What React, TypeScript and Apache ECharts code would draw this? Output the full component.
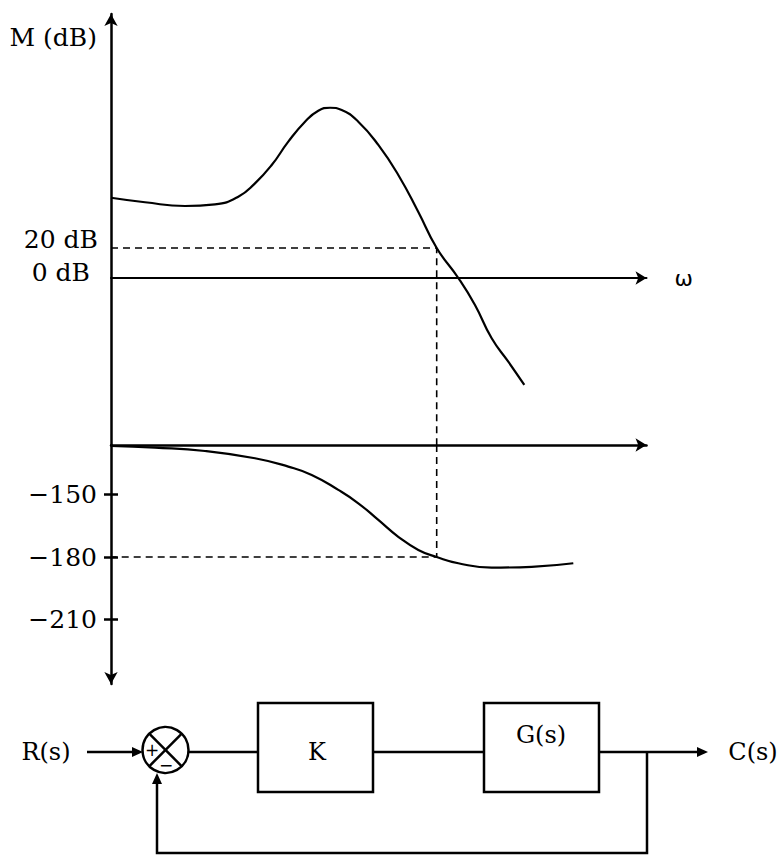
import React, { useEffect, useRef } from "react";
import * as echarts from "echarts";

// ---- data ----
const magOmega = [0, 6.35, 13.82, 19.42, 23.77, 26.89, 30.01, 33.11, 36.23, 38.71, 40.9, 43.08, 46.18, 49.92, 53.65, 57.39, 60.82, 64.86, 67.97, 71.09, 74.19, 77.18];
const magDb = [53.5, 50.5, 48, 49.1, 54.2, 63.1, 75.3, 90.9, 104.2, 111.5, 113.5, 112, 104.2, 88.7, 68.7, 44, 20, 0, -18, -40.2, -55.8, -71.3];
const phaseOmega = [0, 8.22, 17.55, 26.89, 33.11, 37.48, 42.45, 46.18, 49.92, 53.65, 57.39, 60.82, 64.86, 71.09, 78.56, 86.33];
const phaseDeg = [-126.7, -127.5, -129.1, -132.6, -136.6, -140.6, -147.8, -154.2, -162.2, -170.3, -176.6, -180, -183, -185.1, -184.7, -183];
const magTicks = [0, 20];
const phaseTicks = [-150, -180, -210];
const omegaC = 60.82; // gain crossover reading at 20 dB / -180 deg
const markDb = 20;
const markDeg = -180;

// axis ranges
const omegaMin = 0;
const omegaMax = 100;
const magMin = -111.33;
const magMax = 176;
const phaseMin = -240.97;
const phaseMax = -126.23;

const FONT = "DejaVu Serif";
const BLACK = "#000";

export default function App() {
  const ref = useRef<HTMLDivElement>(null);
  useEffect(() => {
    document.body.style.margin = "0";
    const chart = echarts.init(ref.current!, null, { renderer: "svg" });
    const magData = magOmega.map((w, i) => [w, magDb[i]]);
    const phaseData = phaseOmega.map((w, i) => [w, phaseDeg[i]]);
    const txt = (text: string, x: number, y: number, size = 24, align = "center", family = FONT) => ({
      type: "text",
      x,
      y,
      z: 10,
      style: { text, fontSize: size, fontFamily: family, fill: BLACK, align, verticalAlign: "middle" },
    });
    const ln = (x1: number, y1: number, x2: number, y2: number, w = 2.5) => ({
      type: "line",
      shape: { x1, y1, x2, y2 },
      style: { stroke: BLACK, lineWidth: w },
    });
    const tri = (pts: number[][]) => ({ type: "polygon", shape: { points: pts }, style: { fill: BLACK } });
    const cx = 165.5, cy = 750, r = 23, d = r * Math.SQRT1_2;

    chart.setOption({
      animation: false,
      backgroundColor: "#fff",
      grid: [
        { left: 111, top: 14, width: 535.5, height: 431 },
        { left: 111, top: 445, width: 535.5, height: 239 },
      ],
      xAxis: [
        {
          type: "value", gridIndex: 0, min: omegaMin, max: omegaMax,
          axisLine: { onZero: true, symbol: ["none", "arrow"], symbolSize: [10, 11], lineStyle: { color: BLACK, width: 2 } },
          axisTick: { show: false }, axisLabel: { show: false }, splitLine: { show: false },
          name: "ω", nameLocation: "end", nameGap: 28,
          nameTextStyle: { fontSize: 22, fontFamily: "DejaVu Sans", color: BLACK },
        },
        {
          type: "value", gridIndex: 1, min: omegaMin, max: omegaMax, position: "top",
          axisLine: { onZero: false, symbol: ["none", "arrow"], symbolSize: [10, 11], lineStyle: { color: BLACK, width: 2.5 } },
          axisTick: { show: false }, axisLabel: { show: false }, splitLine: { show: false },
        },
      ],
      yAxis: [
        {
          type: "value", gridIndex: 0, min: magMin, max: magMax,
          axisLine: { onZero: false, symbol: ["none", "arrow"], symbolSize: [10, 12], lineStyle: { color: BLACK, width: 2.5 } },
          axisTick: { show: false }, splitLine: { show: false },
          axisLabel: {
            customValues: magTicks, margin: 13,
            formatter: (v: number) => (v === 0 ? "{b|0 dB}" : "{a|" + v + " dB}"),
            rich: {
              a: { fontSize: 25, fontFamily: FONT, color: BLACK, padding: [0, 0, 18, 0] },
              b: { fontSize: 25, fontFamily: FONT, color: BLACK, padding: [0, 8, 12, 0] },
            },
          },
        },
        {
          type: "value", gridIndex: 1, min: phaseMin, max: phaseMax,
          axisLine: { onZero: false, symbol: ["arrow", "none"], symbolSize: [10, 12], lineStyle: { color: BLACK, width: 2.5 } },
          axisTick: { customValues: phaseTicks, length: 7, lineStyle: { color: BLACK, width: 2.5 } },
          splitLine: { show: false },
          axisLabel: {
            customValues: phaseTicks, margin: 14, fontSize: 25, fontFamily: FONT, color: BLACK,
            formatter: (v: number) => (v < 0 ? "\u2212" + Math.abs(v) : String(v)),
          },
        },
        {
          type: "value", gridIndex: 1, min: phaseMin, max: phaseMax, position: "left",
          axisLine: { show: false },
          axisTick: { customValues: phaseTicks, inside: true, length: 7, lineStyle: { color: BLACK, width: 2.5 } },
          axisLabel: { show: false }, splitLine: { show: false },
        },
      ],
      series: [
        {
          type: "line", xAxisIndex: 0, yAxisIndex: 0, data: magData, smooth: 0.5, symbol: "none",
          lineStyle: { color: BLACK, width: 2.2 },
        },
        {
          type: "line", xAxisIndex: 0, yAxisIndex: 0, symbol: "none",
          data: [[omegaMin, markDb], [omegaC, markDb], [omegaC, magMin]],
          lineStyle: { color: BLACK, width: 1.6, type: [7, 5] },
        },
        {
          type: "line", xAxisIndex: 1, yAxisIndex: 1, data: phaseData, smooth: 0.5, symbol: "none",
          lineStyle: { color: BLACK, width: 2.2 },
        },
        {
          type: "line", xAxisIndex: 1, yAxisIndex: 1, symbol: "none",
          data: [[omegaC, phaseMax], [omegaC, markDeg], [omegaMin, markDeg]],
          lineStyle: { color: BLACK, width: 1.6, type: [7, 5] },
        },
      ],
      graphic: [
        txt("M (dB)", 97, 37, 25, "right"),
        // block diagram
        txt("R(s)", 46, 752, 24),
        ln(87, 752, 134, 752),
        tri([[143, 752], [132, 747], [132, 757]]),
        { type: "circle", shape: { cx, cy, r }, style: { fill: "#fff", stroke: BLACK, lineWidth: 2.5 } },
        ln(cx - d, cy - d, cx + d, cy + d, 2.5),
        ln(cx + d, cy - d, cx - d, cy + d, 2.5),
        txt("+", 152, 750, 17, "center", "DejaVu Sans"),
        txt("\u2212", 166, 765, 17, "center", "DejaVu Sans"),
        ln(cx + r, 752, 258, 752),
        { type: "rect", shape: { x: 258, y: 703, width: 115, height: 89 }, style: { fill: "none", stroke: BLACK, lineWidth: 2.5 } },
        txt("K", 317, 752, 24),
        ln(373, 752, 484, 752),
        { type: "rect", shape: { x: 484, y: 703, width: 115, height: 89 }, style: { fill: "none", stroke: BLACK, lineWidth: 2.5 } },
        txt("G(s)", 541, 735, 24),
        ln(599, 752, 699, 752),
        tri([[708, 752], [697, 747], [697, 757]]),
        txt("C(s)", 753, 752, 24),
        {
          type: "polyline",
          shape: { points: [[647, 752], [647, 853], [157, 853], [157, 782]] },
          style: { fill: "none", stroke: BLACK, lineWidth: 2.5 },
        },
        tri([[157, 773], [152, 784], [162, 784]]),
      ],
    });
    return () => chart.dispose();
  }, []);
  return <div ref={ref} style={{ position: "absolute", left: 0, top: 0, width: 779, height: 855 }} />;
}
